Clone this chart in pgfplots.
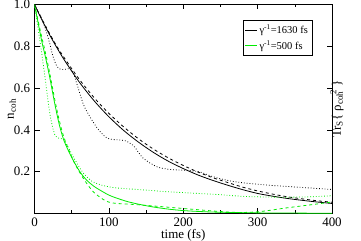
\documentclass[border=0pt]{standalone}
\usepackage{fontspec}
\setmainfont{Liberation Serif}
\usepackage{pgfplots}
\pgfplotsset{compat=1.18}
\definecolor{grn}{RGB}{0,235,0}
\begin{document}
\fontsize{13}{15}\selectfont
\begin{tikzpicture}
\begin{axis}[name=ax, scale only axis, width=297.5bp, height=209bp,
  xmin=0, xmax=400, ymin=0, ymax=1,
  xtick={0,100,200,300,400}, minor xtick={50,150,250,350},
  ytick={0.2,0.4,0.6,0.8,1.0}, yticklabels={0.2,0.4,0.6,0.8,1.0},
  tick align=inside, major tick length=5bp, minor tick length=3bp,
  /pgf/number format/assume math mode=true,
  tick label style={font=\fontsize{13}{15}\selectfont},
  axis line style={black, line width=0.6pt},
  every tick/.style={black, line width=0.6pt},
  xlabel={time (fs)},
  xlabel style={at={(axis description cs:0.5,-0.103)}, anchor=center},
  ylabel={n\textsubscript{coh}},
  ylabel style={at={(axis description cs:-0.076,0.5)}, anchor=center},
  legend style={at={(0.933,0.924)}, anchor=north east, draw=black, line width=0.5pt,
    font=\fontsize{10.5}{12}\selectfont, row sep=1pt, inner sep=2pt},
  legend cell align=left,
  legend image code/.code={\draw[#1] (0cm,0cm) -- (0.42cm,0cm);},
  every axis plot/.append style={line width=0.8pt},
]
% black solid
\addplot[black, smooth] coordinates {(0,1) (10,0.926) (20,0.857) (30,0.794) (40,0.735) (60,0.630) (80,0.540) (100,0.463) (120,0.397) (140,0.341) (160,0.292) (180,0.250) (200,0.215) (220,0.184) (240,0.158) (260,0.135) (280,0.114) (300,0.096) (320,0.083) (340,0.072) (360,0.063) (380,0.055) (400,0.048)};
\addlegendentry{γ\textsuperscript{-1}=1630 fs}
% green solid
\addplot[grn, smooth] coordinates {(0,1) (5,0.91) (10,0.82) (14,0.76) (20,0.66) (27,0.53) (33,0.43) (39,0.355) (45,0.305) (52,0.255) (61,0.2) (70,0.16) (80,0.13) (88,0.112) (100,0.088) (111,0.073) (125,0.057) (142,0.043) (160,0.031) (180,0.021) (200,0.014) (225,0.009) (250,0.006) (300,0.003) (350,0.002) (400,0.001)};
\addlegendentry{γ\textsuperscript{-1}=500 fs}
% black dashed
\addplot[black, dashed, smooth, forget plot] coordinates {(0,1) (10,0.93) (20,0.863) (30,0.80) (40,0.745) (60,0.643) (80,0.555) (100,0.479) (120,0.414) (140,0.357) (160,0.308) (180,0.266) (200,0.230) (220,0.198) (240,0.171) (260,0.148) (280,0.126) (300,0.108) (320,0.093) (340,0.080) (360,0.070) (380,0.061) (400,0.054)};
% black dotted
\addplot[black, dotted, smooth, forget plot] coordinates {(0,1) (10,0.93) (15,0.88) (20,0.82) (25,0.75) (30,0.705) (35,0.69) (42,0.69) (48,0.693) (52,0.675) (57,0.62) (66,0.52) (75,0.46) (84,0.41) (90,0.385) (97,0.362) (105,0.354) (115,0.352) (122,0.348) (133,0.325) (146,0.265) (165,0.223) (182,0.211) (196,0.208) (210,0.205) (223,0.198) (240,0.176) (260,0.158) (280,0.147) (313,0.136) (358,0.125) (400,0.115)};
% green dashed
\addplot[grn, dashed, smooth, forget plot] coordinates {(0,1) (5,0.92) (10,0.84) (14,0.78) (20,0.68) (27,0.55) (33,0.45) (40,0.36) (52,0.255) (61,0.195) (70,0.145) (79,0.104) (88,0.078) (97,0.058) (106,0.05) (115,0.047) (130,0.044) (142,0.041) (160,0.036) (180,0.03) (200,0.024) (220,0.018) (240,0.012) (260,0.007) (280,0.005) (300,0.008) (320,0.017) (335,0.025) (350,0.032) (370,0.041) (385,0.048) (400,0.055)};
% green dotted
\addplot[grn, dotted, smooth, forget plot] coordinates {(0,1) (5,0.88) (10,0.76) (16,0.6) (21,0.47) (27,0.38) (33,0.36) (39,0.355) (45,0.32) (50,0.285) (58,0.235) (66,0.192) (77,0.155) (88,0.138) (100,0.128) (111,0.122) (130,0.117) (150,0.112) (175,0.105) (200,0.1) (225,0.095) (250,0.09) (280,0.082) (310,0.079) (340,0.078) (371,0.08) (400,0.085)};
\end{axis}
\node[rotate=90, anchor=center] at ([shift={(13bp,0bp)}]ax.east) [yshift=8bp] {Tr\textsubscript{S}\{ ρ\textsubscript{coh}\kern-1.1em\textsuperscript{\hspace{1.2em}2} \}};
\pgfresetboundingbox
\path ([shift={(-34.5bp,-27.5bp)}]ax.south west) rectangle ([shift={(29bp,4.5bp)}]ax.north east);
\end{tikzpicture}
\end{document}
